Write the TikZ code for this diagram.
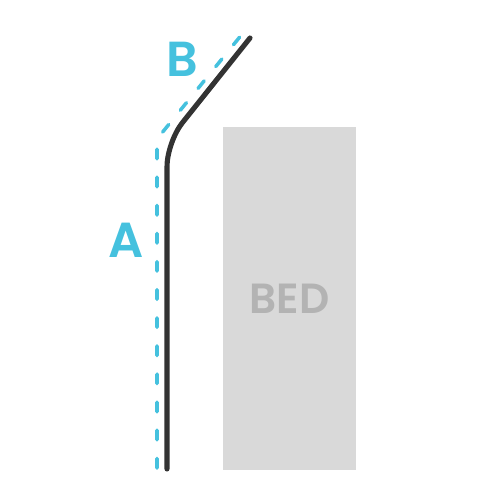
\documentclass[tikz,border=0pt]{standalone}
\usepackage{fontspec}
\setmainfont{Poppins}[BoldFont={Poppins SemiBold}]
\definecolor{guide}{HTML}{45C1DE}
\definecolor{rail}{HTML}{333333}
\definecolor{bedfill}{HTML}{D9D9D9}
\definecolor{bedtext}{HTML}{B3B3B3}
\tikzset{
  letter/.style={text=guide,font=\fontsize{28}{28}\selectfont\bfseries},
}
\begin{document}
\begin{tikzpicture}[x=.02cm,y=-.02cm]
      \useasboundingbox (0,0) rectangle (500,500);
      \node[fill=bedfill,minimum width=2.66cm,minimum height=6.86cm,inner sep=0,
        font=\fontsize{24}{24}\selectfont\bfseries,text=bedtext]
        (bed) at (289.5,298.5) {BED};
      \draw[guide,line width=2pt,line cap=round,dash pattern=on 5.5pt off 10.5pt,
        rounded corners=4pt]
        (157,468) coordinate (ab) -- (157,139) coordinate (ac) -- (243,33) coordinate (at) ;
      \draw[rail,line width=2.9pt,line cap=round,rounded corners=14pt]
        (167,469) coordinate (rb) -- (167,142) coordinate (rc) -- (250,38) coordinate (rt) ;
      \node[letter] (lblA) at (126,240) {A};
      \node[letter] (lblB) at (182,59) {B};
    \end{tikzpicture}
\end{document}
